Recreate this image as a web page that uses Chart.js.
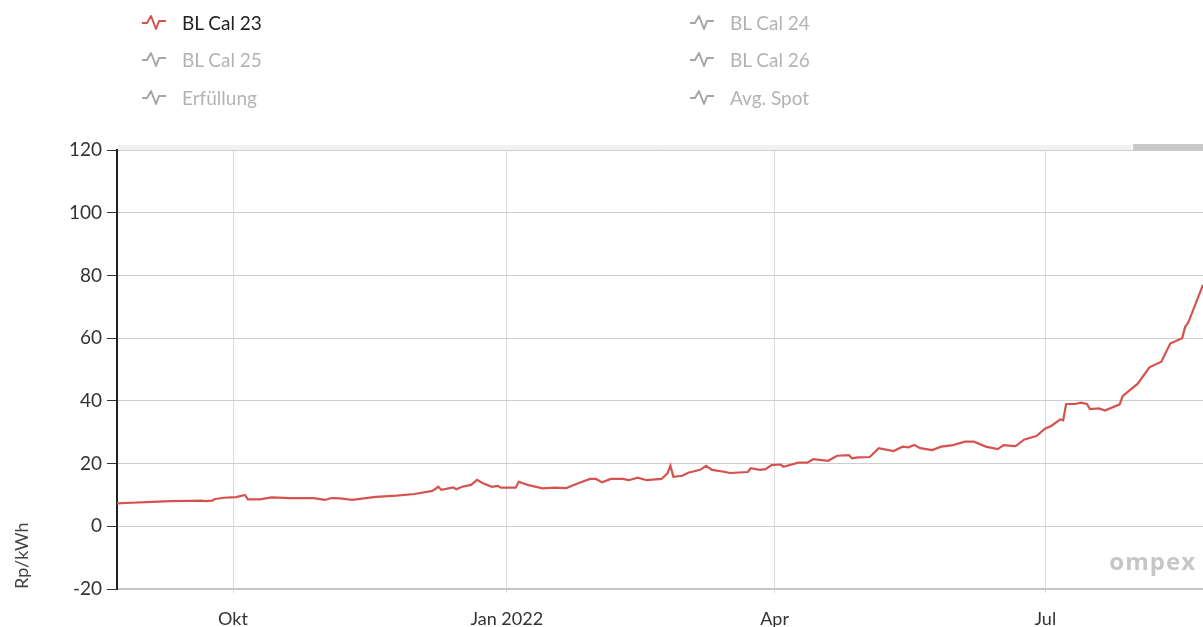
<!DOCTYPE html>
<html>
<head>
<meta charset="utf-8">
<script src="https://cdn.jsdelivr.net/npm/chart.js@4/dist/chart.umd.min.js"></script>
<style>
  html, body { margin: 0; padding: 0; background: #fff; }
  #wrap { position: relative; width: 1203px; height: 627px; overflow: hidden; font-family: Lato, "Open Sans", sans-serif; }
  #cwrap { position: absolute; left: 0; top: 0; width: 1203px; height: 627px; }
  .leg { position: absolute; height: 24px; display: flex; align-items: center; font-size: 19px; white-space: nowrap; }
  .leg svg { margin-right: 16px; }
</style>
</head>
<body>
<div id="wrap">
  <div id="cwrap"><canvas id="c"></canvas></div>
  <div id="legend"></div>
</div>
<script>
const dates = [
'2021-08-23','2021-08-28','2021-09-04','2021-09-10','2021-09-17','2021-09-20','2021-09-22','2021-09-24','2021-09-25','2021-09-28',
'2021-10-02','2021-10-05','2021-10-06','2021-10-10','2021-10-14','2021-10-20','2021-10-28','2021-11-01','2021-11-03','2021-11-06',
'2021-11-10','2021-11-18','2021-11-25','2021-12-01','2021-12-07','2021-12-09','2021-12-10','2021-12-14','2021-12-15','2021-12-17',
'2021-12-20','2021-12-22','2021-12-24','2021-12-27','2021-12-29','2021-12-30','2022-01-04','2022-01-05','2022-01-08','2022-01-13',
'2022-01-17','2022-01-21','2022-01-25','2022-01-29','2022-01-31','2022-02-02','2022-02-05','2022-02-09','2022-02-11','2022-02-14',
'2022-02-17','2022-02-22','2022-02-24','2022-02-25','2022-02-26','2022-03-01','2022-03-03','2022-03-07','2022-03-09','2022-03-11',
'2022-03-15','2022-03-17','2022-03-23','2022-03-24','2022-03-27','2022-03-29','2022-03-31','2022-04-03','2022-04-04','2022-04-09',
'2022-04-12','2022-04-14','2022-04-19','2022-04-22','2022-04-26','2022-04-27','2022-04-29','2022-05-03','2022-05-06','2022-05-11',
'2022-05-14','2022-05-16','2022-05-18','2022-05-20','2022-05-24','2022-05-27','2022-05-31','2022-06-04','2022-06-07','2022-06-11',
'2022-06-15','2022-06-17','2022-06-21','2022-06-24','2022-06-28','2022-07-01','2022-07-03','2022-07-06','2022-07-07','2022-07-08',
'2022-07-11','2022-07-13','2022-07-15','2022-07-16','2022-07-19','2022-07-21','2022-07-26','2022-07-27','2022-07-29','2022-08-01',
'2022-08-05','2022-08-09','2022-08-12','2022-08-16','2022-08-17','2022-08-18','2022-08-23'
];
const blCal23 = [
7.3,7.5,7.8,8.0,8.1,8.2,8.0,8.2,8.7,9.1,
9.3,10.0,8.6,8.6,9.2,9.0,9.0,8.4,9.0,8.9,
8.4,9.4,9.8,10.3,11.3,12.6,11.6,12.4,11.8,12.6,
13.2,14.8,13.7,12.6,12.9,12.3,12.3,14.2,13.2,12.1,
12.3,12.2,13.7,15.1,15.1,14.0,15.1,15.1,14.7,15.5,
14.7,15.1,16.9,19.3,15.8,16.1,17.1,18.0,19.3,18.0,
17.4,17.0,17.3,18.5,18.0,18.2,19.5,19.7,19.0,20.3,
20.3,21.4,20.9,22.5,22.7,21.7,22.0,22.1,24.9,24.0,
25.4,25.2,25.9,24.9,24.3,25.4,25.9,27.0,27.0,25.4,
24.6,25.9,25.6,27.7,28.8,31.2,32.0,34.1,33.8,39.0,
39.0,39.4,39.0,37.4,37.6,36.9,38.9,41.5,43.1,45.4,
50.7,52.5,58.3,60.0,63.6,64.9,77.0
];
const seriesNames = ['BL Cal 23','BL Cal 24','BL Cal 25','BL Cal 26','Erfüllung','Avg. Spot'];
const seriesHidden = [false, true, true, true, true, true];
const tickDates = ['2021-10-01','2022-01-01','2022-04-01','2022-07-01'];
const tickLabels = ['Okt','Jan 2022','Apr','Jul'];
const yTicks = [-20, 0, 20, 40, 60, 80, 100, 120];
const rangeStart = '2021-08-23';
const rangeEnd = '2022-08-23';
const yTitle = 'Rp/kWh';
const watermark = 'ompex';

const toMs = s => Date.parse(s + 'T00:00:00Z');
const tickMs = tickDates.map(toMs);
const RED = '#d6524e';

const datasets = seriesNames.map((name, i) => ({
  label: name,
  data: i === 0 ? dates.map((d, j) => ({ x: toMs(d), y: blCal23[j] })) : [],
  hidden: seriesHidden[i],
  borderColor: i === 0 ? RED : '#999',
  borderWidth: 2.2,
  pointRadius: 0,
  tension: 0,
  fill: false
}));

const decor = {
  id: 'decor',
  beforeDraw(chart) {
    const ctx = chart.ctx, a = chart.chartArea;
    ctx.save();
    ctx.fillStyle = '#f1f1f1';
    ctx.fillRect(a.left + 1, a.top - 5, 1130 - a.left, 5);
    ctx.fillStyle = '#c9c9c9';
    ctx.fillRect(1133, a.top - 6, a.right - 1133, 6);
    ctx.restore();
  },
  afterDraw(chart) {
    const ctx = chart.ctx;
    ctx.save();
    ctx.font = 'bold 24px "Open Sans", sans-serif';
    ctx.fillStyle = '#c6c6c6';
    ctx.textAlign = 'right';
    ctx.textBaseline = 'alphabetic';
    if ('letterSpacing' in ctx) ctx.letterSpacing = '1px';
    ctx.fillText(watermark, 1196, 570);
    ctx.restore();
  }
};

const chart = new Chart(document.getElementById('c'), {
  type: 'line',
  data: { datasets },
  plugins: [decor],
  options: {
    responsive: true,
    maintainAspectRatio: false,
    animation: false,
    layout: { padding: { top: 150, right: 0, bottom: 0, left: 0 } },
    plugins: { legend: { display: false }, tooltip: { enabled: false } },
    scales: {
      x: {
        type: 'linear',
        min: toMs(rangeStart),
        max: toMs(rangeEnd),
        afterBuildTicks(scale) { scale.ticks = tickMs.map(v => ({ value: v })); },
        afterFit(scale) { scale.height = 38; },
        ticks: {
          autoSkip: false, maxRotation: 0, padding: 15,
          color: '#333',
          font: { family: 'Lato', size: 18 },
          callback: v => { const k = tickMs.indexOf(v); return k >= 0 ? tickLabels[k] : ''; }
        },
        grid: { color: '#dcdcdc', lineWidth: 1, drawTicks: true, tickLength: 4, tickColor: '#dcdcdc' },
        border: { display: true, color: '#c4c4c4', width: 1.5 }
      },
      y: {
        min: -20, max: 120,
        afterBuildTicks(scale) { scale.ticks = yTicks.map(v => ({ value: v })); },
        afterFit(scale) { scale.width = 117; },
        ticks: { color: '#333', padding: 5, font: { family: 'Lato', size: 19 } },
        grid: { color: '#cdcdcd', lineWidth: 1, drawTicks: true, tickLength: 10, tickColor: '#333' },
        border: { display: true, color: '#222', width: 2 },
        title: {
          display: true, text: yTitle, align: 'start',
          color: '#444', font: { family: 'Lato', size: 18 },
          padding: { top: 11, bottom: 0 }
        }
      }
    }
  }
});

// HTML legend, two columns
const legend = document.getElementById('legend');
const colX = [142, 690];
const rowY = [10, 47, 85];
seriesNames.forEach((name, i) => {
  const ds = chart.data.datasets[i];
  const hidden = ds.hidden;
  const el = document.createElement('div');
  el.className = 'leg';
  el.style.left = colX[i % 2] + 'px';
  el.style.top = rowY[Math.floor(i / 2)] + 'px';
  const iconColor = hidden ? '#a6a6a6' : RED;
  el.innerHTML = '<svg width="24" height="18" viewBox="0 0 24 18"><polyline points="0,10 5,10 9,3 14,16 17,8 24,8" fill="none" stroke="' + iconColor + '" stroke-width="2" stroke-linejoin="round" stroke-linecap="round"/></svg>';
  const sp = document.createElement('span');
  sp.textContent = name;
  sp.style.color = hidden ? '#b3b3b3' : '#222';
  el.appendChild(sp);
  legend.appendChild(el);
});
</script>
</body>
</html>
